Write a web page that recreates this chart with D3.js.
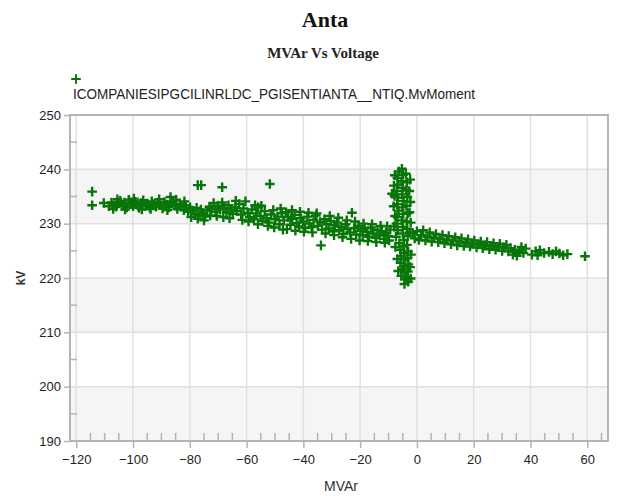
<!DOCTYPE html>
<html><head><meta charset="utf-8">
<script src="https://cdnjs.cloudflare.com/ajax/libs/d3/7.8.5/d3.min.js"></script>
<style>
html,body{margin:0;padding:0;background:#fff;}
svg{display:block;}
text{font-family:"Liberation Sans Narrow","Arial Narrow","Liberation Sans",Arial,sans-serif;}
</style></head>
<body><svg id="c" width="618" height="496"></svg>
<script>
const titleText = "Anta";
const subtitleText = "MVAr Vs Voltage";
const seriesName = "ICOMPANIESIPGCILINRLDC_PGISENTIANTA__NTIQ.MvMoment";
const xLabel = "MVAr";
const yLabel = "kV";
const xTicks = [-120,-100,-80,-60,-40,-20,0,20,40,60];
const yTicks = [190,200,210,220,230,240,250];

// [MVAr, kV]
const leftBand = [
[-110.3,233.8],[-108.5,233.2],[-107.6,233.9],[-106.8,233.4],[-106,233.1],[-105.2,233.7],[-104.5,234.2],[-103.7,233.3],[-103,233.9],[-102.2,233.0],
[-101.5,234.4],[-100.8,233.6],[-100,233.2],[-99.3,234.0],[-98.6,233.5],[-97.9,232.9],[-97.1,233.8],[-96.4,234.3],[-95.6,233.3],[-94.9,233.7],
[-94.1,233.0],[-93.4,234.1],[-92.6,233.6],[-91.9,233.1],[-91.1,233.9],[-90.4,233.4],[-89.6,232.8],[-88.9,234.0],[-88.1,233.5],[-87.4,233.0],
[-86.6,233.8],[-85.9,234.2],[-85.1,233.3],[-84.4,232.7],[-83.6,233.6],[-82.9,233.1],[-82.1,232.5],[-81.4,233.4],[-80.6,232.2],[-79.9,233.0],
[-107,232.7],[-105.5,234.5],[-102.8,232.6],[-99.7,234.6],[-96.9,232.6],[-93.8,232.7],[-90.8,234.5],[-87.9,232.5],[-86.8,234.9],[-84.8,234.4],[-81.9,234.1]
];
const midBand = [
[-79.1,232.4],[-78.4,231.8],[-77.6,232.9],[-76.9,231.5],[-76.1,232.6],[-75.4,231.9],[-74.6,231.3],[-73.9,232.4],[-73.1,233.1],[-72.4,232.7],
[-71.6,233.8],[-70.9,232.2],[-70.1,233.3],[-69.4,232.6],[-68.6,233.9],[-67.9,232.9],[-67.1,232.1],[-66.4,233.4],[-65.6,232.6],[-64.9,231.8],
[-64.1,233.0],[-63.4,232.3],[-62.6,233.6],[-61.9,231.7],[-61.1,232.8],[-60.4,234.1],[-59.6,232.0],[-58.9,231.2],[-58.1,232.6],[-57.4,230.8],
[-56.6,231.9],[-55.9,233.0],[-55.1,231.4],[-54.4,230.5],[-53.6,232.3],[-52.9,231.0],[-52.1,230.2],[-51.4,231.7],[-50.6,232.5],[-49.9,230.8],
[-49.1,231.3],[-48.4,229.9],[-47.6,231.9],[-46.9,230.6],[-46.1,232.1],[-45.4,231.2],[-44.6,229.8],[-43.9,230.9],[-43.1,231.6],[-42.4,230.1],
[-41.6,229.5],[-40.9,231.0],[-40.1,230.4],[-39.4,229.2],[-38.6,231.3],[-37.9,230.0],[-37.1,229.4],[-36.4,230.7],[-35.6,231.5],[-34.9,229.6],
[-34.1,230.3],[-33.4,228.9],[-32.6,230.8],[-31.9,229.9],[-31.1,229.1],[-30.4,230.5],[-29.6,228.6],[-28.9,229.7],[-28.1,230.2],[-27.4,228.8],
[-26.6,229.4],[-25.9,228.1],[-25.1,229.9],[-24.4,229.0],[-23.6,228.4],[-22.1,229.2],[-21.4,228.0],[-20.6,229.6],[-19.9,228.7],[-19.1,227.9],
[-18.4,229.1],[-17.6,228.5],[-16.9,227.6],[-16.1,229.3],[-15.4,228.2],[-14.6,227.4],[-13.9,228.8],[-13.1,227.8],[-12.4,228.6],[-11.6,227.2],
[-10.9,228.3],[-10.1,227.7],[-9.4,228.9],
[-79.5,231.2],[-77.2,230.9],[-75,230.6],[-72.8,231.5],[-70.5,231.4],[-68.2,231.2],[-66,231.0],[-63.8,234.2],[-61.5,230.7],[-59.3,230.4],
[-57,233.4],[-56,229.9],[-54.8,233.3],[-52.5,229.6],[-50.3,229.3],[-48,232.8],[-47.2,228.9],[-45.8,229.0],[-44,232.5],[-42.8,228.7],
[-41.2,232.2],[-39.8,228.5],[-38.2,232.0],[-36.8,228.4],[-35.3,231.9],[-32.2,228.2],[-30.7,231.4],[-29.2,227.9],[-27.7,231.1],[-26.2,227.5],
[-24.7,230.6],[-23.2,227.2],[-21.8,230.4],[-20.2,226.9],[-18.8,230.0],[-17.3,226.8],[-15.8,229.9],[-14.3,226.6],[-12.8,229.6],[-11.3,226.5],
[-10.5,229.5],[-9.8,226.9]
];
const spike = [
[-6.4,239.6],[-6.9,238.4],[-6.6,237.2],[-7.1,236.0],[-6.7,234.8],[-7.0,233.6],[-6.5,232.4],[-6.9,231.2],[-7.2,230.0],[-6.8,228.8],
[-7.4,227.6],[-6.2,226.4],[-5.9,225.2],[-5.6,224.0],[-5.8,222.8],[-5.3,221.6],[-5.5,220.4],
[-5.3,240.1],[-4.9,239.0],[-5.4,237.8],[-5.0,236.6],[-5.2,235.4],[-4.7,234.2],[-5.1,233.0],[-4.8,231.8],[-5.3,230.6],[-4.9,229.4],
[-5.0,228.2],[-4.6,227.0],[-4.8,225.8],[-4.5,224.6],[-4.3,223.4],[-4.6,222.2],[-4.4,221.0],[-4.2,219.8],[-4.4,218.9],
[-3.9,239.2],[-3.5,237.6],[-3.8,236.2],[-3.4,234.9],[-3.7,233.3],[-3.3,231.9],[-3.6,230.4],[-3.4,229.0],[-3.2,227.7],[-3.5,226.1],
[-3.1,224.9],[-3.3,223.7],[-3.0,222.5],[-3.2,221.2],[-3.4,220.2],[-8.8,235.5],
[-7.8,238.9],[-8.1,237.0],[-7.9,235.1],[-8.2,233.2],[-7.7,231.4],[-8.0,229.5],[-7.6,225.7],[-6.9,223.5],[-6.6,221.3],
[-2.4,238.1],[-2.7,236.0],[-2.3,234.0],[-2.6,232.1],[-2.2,230.2],[-2.5,228.4],[-2.1,224.3],[-2.4,222.0],[-2.2,219.9],[-3.1,219.3]
];
const rightBand = [
[-1.5,228.3],[-0.8,227.3],[0,228.6],[0.7,227.0],[1.5,227.9],[2.2,228.8],[3.0,226.9],[3.7,227.6],[4.5,228.4],[5.2,226.7],
[6.0,227.4],[6.7,228.1],[7.5,226.6],[8.2,227.2],[9.0,227.9],[9.7,226.4],[10.5,227.0],[11.2,227.7],[12.0,226.2],[12.7,226.9],
[13.5,227.5],[14.2,226.0],[15.0,226.7],[15.7,227.3],[16.5,225.9],[17.2,226.5],[18.0,227.1],[18.7,225.8],[19.5,226.3],[20.2,226.9],
[21.0,225.6],[21.7,226.2],[22.5,226.7],[23.2,225.5],[24.0,226.0],[24.7,226.6],[25.5,225.3],[26.2,225.9],[27.0,226.4],[27.7,225.2],
[28.5,225.7],[29.2,226.3],[30.0,225.0],[30.7,225.6],[31.5,226.1],[32.2,224.9],[33.0,225.5],[33.8,224.3],[34.5,225.2],[35.2,224.1],
[36.0,225.0],[36.8,225.7],[37.5,224.6],[38.3,225.4],[40.5,224.3],[41.8,224.9],[42.5,224.2],[43.3,225.1],[44.8,224.6],[46.5,224.8],
[47.8,224.4],[49.0,224.9],[50.2,224.5],[51.5,224.2],[53.0,224.4]
];
const outliers = [
[-114.4,235.9],[-114.4,233.4],[-77.2,237.1],[-76.0,237.1],[-68.6,236.7],[-51.8,237.3],[-33.8,226.0],[-22.9,232.0],[59.2,224.0]
];

const svg = d3.select("#c");
const plot = {l:70, r:608, t:115, b:441};
const x = d3.scaleLinear().domain([-122.2, 67.3]).range([plot.l, plot.r]);
const y = d3.scaleLinear().domain([190, 250]).range([plot.b, plot.t]);
const green = "#087508";

// alternating bands
const bandPairs = [[230,240],[210,220],[190,200]];
svg.append("g").selectAll("rect").data(bandPairs).join("rect")
  .attr("x", plot.l).attr("width", plot.r-plot.l)
  .attr("y", d=>y(d[1])).attr("height", d=>y(d[0])-y(d[1]))
  .attr("fill", "#f5f5f5");

// grid
svg.append("g").selectAll("line").data(xTicks).join("line")
  .attr("x1", d=>x(d)).attr("x2", d=>x(d)).attr("y1", plot.t).attr("y2", plot.b)
  .attr("stroke", "#e0e0e0").attr("stroke-width", 1.5);
svg.append("g").selectAll("line").data(yTicks.slice(1,-1)).join("line")
  .attr("y1", d=>y(d)).attr("y2", d=>y(d)).attr("x1", plot.l).attr("x2", plot.r)
  .attr("stroke", "#e0e0e0").attr("stroke-width", 1.5);

// frame
svg.append("rect").attr("x", plot.l).attr("y", plot.t).attr("width", plot.r-plot.l).attr("height", plot.b-plot.t)
  .attr("fill", "none").attr("stroke", "#b4b4b4").attr("stroke-width", 2);

// minor ticks (inside)
const xMinor = d3.range(-115, 67, 5).filter(v => v % 20 !== 0);
svg.append("g").selectAll("line").data(xMinor).join("line")
  .attr("x1", d=>x(d)).attr("x2", d=>x(d)).attr("y1", plot.b).attr("y2", plot.b-8)
  .attr("stroke", "#b4b4b4").attr("stroke-width", 1.5);
const yMinor = d3.range(195, 250, 10);
svg.append("g").selectAll("line").data(yMinor).join("line")
  .attr("y1", d=>y(d)).attr("y2", d=>y(d)).attr("x1", plot.l).attr("x2", plot.l+7)
  .attr("stroke", "#b4b4b4").attr("stroke-width", 1.5);

// axes
const xAxis = svg.append("g").attr("transform", `translate(0,${plot.b})`)
  .call(d3.axisBottom(x).tickValues(xTicks).tickSize(7).tickPadding(6).tickFormat(d3.format("d")));
const yAxis = svg.append("g").attr("transform", `translate(${plot.l},0)`)
  .call(d3.axisLeft(y).tickValues(yTicks).tickSize(6).tickPadding(3).tickFormat(d3.format("d")));
[xAxis, yAxis].forEach(g => {
  g.select(".domain").remove();
  g.selectAll(".tick line").attr("stroke", "#b4b4b4").attr("stroke-width", 1.5);
  g.selectAll(".tick text").attr("fill", "#222").attr("font-size", 13)
    .style("font-family", '"Liberation Sans Narrow","Arial Narrow","Liberation Sans",sans-serif');
});
xAxis.selectAll(".tick text").attr("dy", "0.75em");

// points
const cross = "M-4.8,0H4.8M0,-4.8V4.8";
const all = [].concat(leftBand, midBand, spike, rightBand, outliers);
svg.append("g").selectAll("path").data(all).join("path")
  .attr("transform", d=>`translate(${x(d[0])},${y(d[1])})`)
  .attr("d", cross).attr("stroke", green).attr("stroke-width", 2.4).attr("fill", "none");

// titles
svg.append("text").attr("x", 325).attr("y", 27).attr("text-anchor", "middle")
  .style("font-family", '"Liberation Serif","Times New Roman",serif').attr("font-weight", "bold").attr("font-size", 22)
  .attr("fill", "#111").text(titleText);
svg.append("text").attr("x", 323).attr("y", 58).attr("text-anchor", "middle")
  .style("font-family", '"Liberation Serif","Times New Roman",serif').attr("font-weight", "bold").attr("font-size", 15)
  .attr("fill", "#222").text(subtitleText);

// legend
svg.append("path").attr("transform", "translate(76,79)").attr("d", cross).attr("stroke", green).attr("stroke-width", 2);
svg.append("text").attr("x", 73).attr("y", 99).attr("font-size", 14).attr("fill", "#222")
  .attr("textLength", 402).attr("lengthAdjust", "spacingAndGlyphs").text(seriesName);

// axis labels
svg.append("text").attr("x", 341).attr("y", 491).attr("text-anchor", "middle").attr("font-size", 14)
  .attr("fill", "#333").text(xLabel);
svg.append("text").attr("transform", "translate(25,278) rotate(-90)").attr("text-anchor", "middle")
  .attr("font-size", 12).attr("font-weight", "bold").attr("fill", "#333").text(yLabel);
</script></body></html>
